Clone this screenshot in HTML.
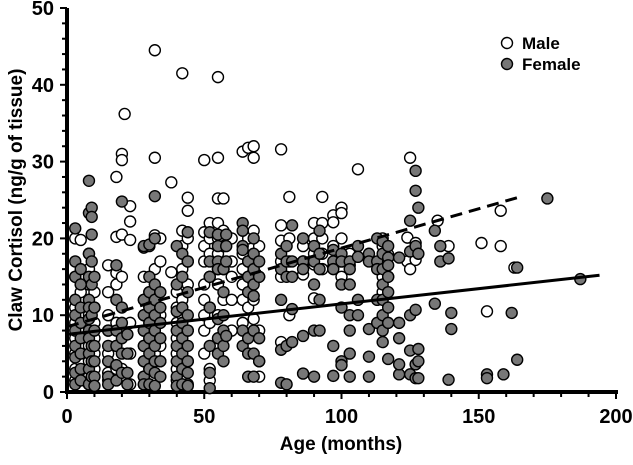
<!DOCTYPE html>
<html><head><meta charset="utf-8"><style>
body{margin:0;background:#fff}
svg{display:block;font-family:"Liberation Sans",Arial,sans-serif;font-weight:bold}
</style></head><body>
<svg id="chart" width="633" height="465" viewBox="0 0 633 465">
<g id="axes"></g><g id="male-points"></g><g id="female-points"></g><g id="fits"></g>
<g>
<circle cx="507" cy="43" r="5.5" fill="#fff" stroke="#000" stroke-width="1.4"/>
<text x="522" y="49" font-size="17">Male</text>
<circle cx="507" cy="64" r="5.5" fill="#777" stroke="#000" stroke-width="1.4"/>
<text x="522" y="70" font-size="17">Female</text>
</g>
<text x="341" y="450" font-size="19" text-anchor="middle">Age (months)</text>
<text transform="translate(22,200) rotate(-90)" font-size="19" text-anchor="middle">Claw Cortisol (ng/g of tissue)</text>
</svg>
<script>
const xTicks=[0,50,100,150,200];
const yTicks=[0,10,20,30,40,50];
const maleCols=[[3,[20,12,11,9,7,5,3,1.5,15]],[5,[19.8,14,13,10,8,6,4,2]],[8,[18,16,14,12,10,8.5,6,4,2,1]],[10,[13,11,9,7,5,3]],[15,[16.5,13,10,8,5,2.5,1.5]],[18,[20.2,15.5,14,9,6,3,28]],[20,[31,30.2,20.5,15,8,3]],[21,[36.2]],[23,[22.2,24.2,19.8,9,5,1]],[28,[18.8,15,12,10,8,6,4,2,1]],[30,[19,13,11,9,7,3,1.5]],[32,[20.4,16,12,8,5,2,30.5,44.5]],[34,[20,17,10,6,4]],[38,[27.3,15.6]],[40,[13,11,9,7,5,3,1.5]],[42,[21,19,16,12,10,6,2,41.5]],[44,[23.6,25.3,20,17,14,8,4,1]],[50,[20.8,19,17,14,12,10,8,5,30.2]],[52,[22,20,18,15,11,9,3,1.5]],[55,[41,30.5,25.2,22,20,18,16,14,10,6]],[57,[25.2,21,19,16,12]],[60,[20,17,15,12,8]],[64,[31.3,18,16,14,12,9]],[66,[31.8,20,17,15,11]],[68,[32,30.5,21,16,12,9.5]],[70,[19,15,8,4,2]],[78,[31.6,21.7,19.7,17,15,6.5]],[81,[25.4,20,17,10]],[86,[19,17,15.3]],[90,[22,20,18,16.6,12.2]],[93,[25.4,22,20,18,16]],[97,[23,22.1,19,16.3]],[100,[24,23.3,20,17,15]],[103,[16.5,18]],[106,[29]],[115,[20,19,17,15,13]],[117,[17.9,15]],[124,[20.1,17]],[125,[30.5,16]],[127,[17.2,19.4]],[135,[22.3]],[139,[19]],[151,[19.4]],[153,[10.5]],[158,[23.6,19]],[163,[16.2]]];
const femaleCols=[[3,[21.3,17,15,12,10,8,6,4.5,2.5,1]],[5,[16,14,11,9,7,5,3,1.5]],[8,[27.5,23.3,18,15,12,11,9.5,8,7,5,3,1]],[9,[24,22.8,20.5,17,14,10,6,4,2]],[10,[15,11,8,6,4,2,0.8]],[15,[8,6,4,2,1]],[18,[16.5,12,8,6,3.5,1.5]],[20,[24.8,11,9,7,5,2.5]],[22,[7.5,5,2.5,1]],[28,[19,12,10,8,6,4,2,1]],[30,[19.2,15,13,11,9,7,5,3,1]],[32,[25.5,20,14,12,10,8,6,4,2.5,0.8]],[34,[13,11,9,7,4,2]],[40,[19,14,10.5,8,6,4,2,0.8]],[42,[18,15,11,9,7,5,3,1]],[44,[20.8,17,13,10,8,6,4,2.5,0.8]],[52,[20.8,17,15,11,6,2.5,0.5]],[55,[20.5,19,17,16,9.5,7,5]],[57,[16,13,10,8,6,4]],[58,[20.5,19,17,7.3]],[64,[22,21,19,18.5,8,6]],[66,[17,15,13,7,5,2]],[68,[20,18,16,14,12.5,8,5,2]],[70,[17,15,7,4]],[78,[18,16,12,5.5,1.2]],[80,[19,17,15,6,1]],[82,[21.7,17,15,10.8,6.5]],[86,[20,17,16,7.3,2.4]],[90,[19,17,14,8,2]],[92,[21,18,16,12,8]],[97,[18.5,17,16,6,2.1]],[100,[18,17,14,11,4,3.5]],[103,[17,16,14,10,8,5,2]],[106,[19,17.6,12,10]],[110,[18,17,8.2,4.6,2]],[113,[20,17,16,12,9]],[115,[19.6,18,16,14,12,10,8,6.5]],[117,[19,17.5,16.5,15,13,11,9,4.3]],[121,[17.5,9,7,2.3,3.6]],[125,[18.3,22.3,10,5.4,2.3]],[127,[28.8,26.2,19,10.7,3.6,1.8]],[128,[24,18,5.6,4,1.8]],[134,[21,11.5]],[136,[19,17]],[139,[1.6,17.4]],[140,[8.2,10.3]],[153,[2.3,1.8]],[159,[2.3]],[162,[10.3]],[164,[16.2,4.2]],[175,[25.2]],[187,[14.7]]];
const maleFit=[[0,8.5],[166,25.5]];
const femaleFit=[[0,7.5],[194,15.2]];

const NS="http://www.w3.org/2000/svg";
const X0=67,X1=616,Y0=392,Y1=8;
const sx=v=>X0+(v/200)*(X1-X0);
const sy=v=>Y0-(v/50)*(Y0-Y1);
function mk(tag,attrs,parent){const e=document.createElementNS(NS,tag);for(const k in attrs)e.setAttribute(k,attrs[k]);parent.appendChild(e);return e;}
const axes=document.getElementById('axes');
let l=mk('line',{x1:X0,y1:Y0,x2:X1+2,y2:Y0,stroke:'#000','stroke-width':4},axes);


l=mk('line',{x1:X0,y1:Y0+2,x2:X0,y2:Y1,stroke:'#000','stroke-width':4},axes);


for(let v=0;v<=200;v+=10){const t=mk('line',{x1:sx(v),y1:Y0,x2:sx(v),y2:Y0+(v%50==0?7:5),stroke:'#000','stroke-width':2},axes);

}
for(let v=0;v<=50;v+=2){const t=mk('line',{x1:X0,y1:sy(v),x2:X0-(v%10==0?7:5),y2:sy(v),stroke:'#000','stroke-width':2},axes);

}
xTicks.forEach(v=>{const t=mk('text',{x:sx(v),y:423,'font-size':20,'text-anchor':'middle'},axes);t.textContent=v;

});
yTicks.forEach(v=>{const t=mk('text',{x:54,y:sy(v)+7,'font-size':20,'text-anchor':'end'},axes);t.textContent=v;

});
function drawPts(cols,g,fill,name){cols.forEach(([a,vals])=>vals.forEach(v=>{const c=mk('circle',{cx:sx(a),cy:sy(v),r:5.5,fill:fill,stroke:'#000','stroke-width':1.4},g);

}));}
drawPts(maleCols,document.getElementById('male-points'),'#fff','male-point');
drawPts(femaleCols,document.getElementById('female-points'),'#777','female-point');
const fits=document.getElementById('fits');
l=mk('line',{x1:sx(maleFit[0][0]),y1:sy(maleFit[0][1]),x2:sx(maleFit[1][0]),y2:sy(maleFit[1][1]),stroke:'#000','stroke-width':3,'stroke-dasharray':'12,7'},fits);


l=mk('line',{x1:sx(femaleFit[0][0]),y1:sy(femaleFit[0][1]),x2:sx(femaleFit[1][0]),y2:sy(femaleFit[1][1]),stroke:'#000','stroke-width':3},fits);


</script>
</body></html>
